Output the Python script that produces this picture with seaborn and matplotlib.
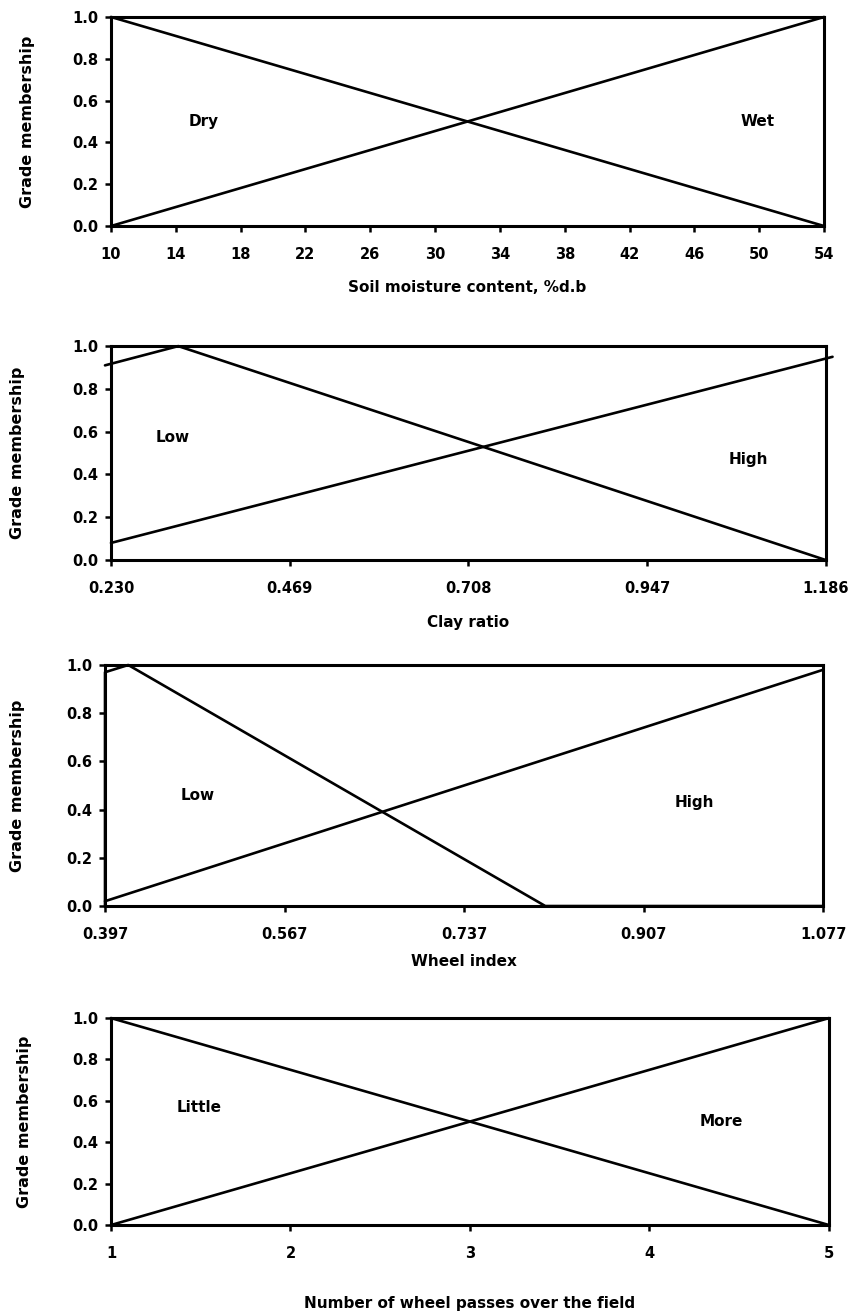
import matplotlib
matplotlib.use("Agg")
import matplotlib.pyplot as plt
import seaborn as sns
import pandas as pd

sns.set_theme(style="white")
plt.rcParams['font.family'] = ['DejaVu Sans']
plt.rcParams['text.color'] = 'black'
plt.rcParams['axes.labelcolor'] = 'black'
plt.rcParams['xtick.color'] = 'black'
plt.rcParams['ytick.color'] = 'black'

# ---- Data ----
# Panel 1: soil moisture
moist_ticks = [10, 14, 18, 22, 26, 30, 34, 38, 42, 46, 50, 54]
moist_tick_labels = ["10", "14", "18", "22", "26", "30", "34", "38", "42", "46", "50", "54"]
dry_x = [10, 54]
dry_y = [1.0, 0.0]
wet_x = [10, 54]
wet_y = [0.0, 1.0]

# Panel 2: clay ratio
clay_ticks = [0.230, 0.469, 0.708, 0.947, 1.186]
clay_tick_labels = ["0.230", "0.469", "0.708", "0.947", "1.186"]
clay_low_x = [0.222, 0.320, 1.186]
clay_low_y = [0.91, 1.0, 0.0]
clay_high_x = [0.230, 1.195]
clay_high_y = [0.08, 0.95]

# Panel 3: wheel index
wheel_ticks = [0.397, 0.567, 0.737, 0.907, 1.077]
wheel_tick_labels = ["0.397", "0.567", "0.737", "0.907", "1.077"]
wheel_low_x = [0.397, 0.397, 0.419, 0.814, 1.077]
wheel_low_y = [0.0, 0.97, 1.0, 0.0, 0.0]
wheel_high_x = [0.397, 1.077]
wheel_high_y = [0.02, 0.98]

# Panel 4: wheel passes
pass_ticks = [1, 2, 3, 4, 5]
pass_tick_labels = ["1", "2", "3", "4", "5"]
little_x = [1, 5]
little_y = [1.0, 0.0]
more_x = [1, 5]
more_y = [0.0, 1.0]

panels = [
    dict(pos=[0.1304, 0.8281, 0.8380, 0.1590], xlim=(10, 54), ticks=moist_ticks, labels=moist_tick_labels,
         xlabel="Soil moisture content, %d.b", xlabel_y=-0.292, ylabel_x=-0.107,
         series=[("Dry", dry_x, dry_y), ("Wet", wet_x, wet_y)],
         texts=[("Dry", 15.7, 0.50), ("Wet", 49.9, 0.50)]),
    dict(pos=[0.1304, 0.5741, 0.8400, 0.1627], xlim=(0.230, 1.186), ticks=clay_ticks, labels=clay_tick_labels,
         xlabel="Clay ratio", xlabel_y=-0.294, ylabel_x=-0.120,
         series=[("Low", clay_low_x, clay_low_y), ("High", clay_high_x, clay_high_y)],
         texts=[("Low", 0.313, 0.575), ("High", 1.082, 0.47)]),
    dict(pos=[0.1234, 0.3110, 0.8437, 0.1833], xlim=(0.397, 1.077), ticks=wheel_ticks, labels=wheel_tick_labels,
         xlabel="Wheel index", xlabel_y=-0.232, ylabel_x=-0.111,
         series=[("Low", wheel_low_x, wheel_low_y), ("High", wheel_high_x, wheel_high_y)],
         texts=[("Low", 0.485, 0.46), ("High", 0.955, 0.43)]),
    dict(pos=[0.1304, 0.0684, 0.8437, 0.1574], xlim=(1, 5), ticks=pass_ticks, labels=pass_tick_labels,
         xlabel="Number of wheel passes over the field", xlabel_y=-0.377, ylabel_x=-0.110,
         series=[("Little", little_x, little_y), ("More", more_x, more_y)],
         texts=[("Little", 1.49, 0.57), ("More", 4.40, 0.50)]),
]

fig = plt.figure(figsize=(8.51, 13.15), dpi=100)

for p in panels:
    ax = fig.add_axes(p["pos"])
    rows = []
    for name, xs, ys in p["series"]:
        for x, y in zip(xs, ys):
            rows.append({"x": x, "y": y, "set": name})
    df = pd.DataFrame(rows)
    for name, sub in df.groupby("set", sort=False):
        sns.lineplot(data=sub, x="x", y="y", ax=ax, color="black", linewidth=1.9,
                     sort=False, estimator=None, legend=False, clip_on=False)
    ax.set_xlim(*p["xlim"])
    ax.set_ylim(0, 1)
    ax.set_xticks(p["ticks"])
    ax.set_xticklabels(p["labels"], fontsize=10.5, fontweight="bold")
    ax.set_yticks([0, 0.2, 0.4, 0.6, 0.8, 1.0])
    ax.set_yticklabels(["0.0", "0.2", "0.4", "0.6", "0.8", "1.0"], fontsize=10.5, fontweight="bold")
    ax.tick_params(axis="both", direction="out", length=4, width=1.8, color="black",
                   labelcolor="black", bottom=True, left=True)
    ax.tick_params(axis="x", pad=11)
    ax.tick_params(axis="y", pad=5)
    for s in ax.spines.values():
        s.set_visible(True)
        s.set_color("black")
        s.set_linewidth(2.2)
    ax.set_xlabel(p["xlabel"], fontsize=11, fontweight="bold", va="center", color="black")
    ax.xaxis.set_label_coords(0.5, p["xlabel_y"])
    ax.set_ylabel("Grade membership", fontsize=11.5, fontweight="bold", color="black")
    ax.yaxis.set_label_coords(p["ylabel_x"], 0.5)
    for t, tx, ty in p["texts"]:
        ax.text(tx, ty, t, fontsize=11, fontweight="bold", ha="center", va="center", color="black")
    ax.grid(False)

fig.savefig("out.png", dpi=100, facecolor="white")
